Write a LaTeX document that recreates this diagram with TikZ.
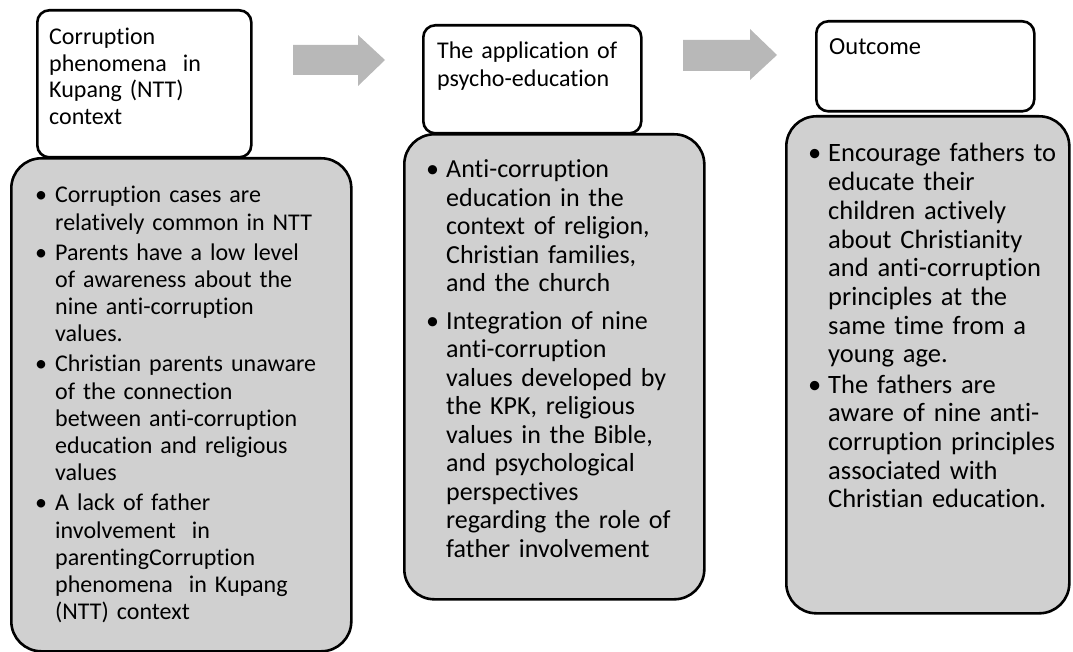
\documentclass[tikz,border=0pt]{standalone}
\usepackage{fontspec}
\setmainfont[Ligatures=NoCommon]{Carlito}
\usetikzlibrary{positioning}
\definecolor{boxgray}{RGB}{208,208,208}
\definecolor{arrowgray}{RGB}{184,184,184}
\newlength{\bulind}\setlength{\bulind}{20pt}
\newlength{\bulgap}\setlength{\bulgap}{2pt}
\newcommand{\bul}[1]{\hangindent=\bulind\hangafter=1\noindent\makebox[\bulind][l]{\textbullet}#1}
\newcommand{\nbul}[1]{\par\vspace{\bulgap}\bul{#1}}
\begin{document}
\begin{tikzpicture}[x=1pt,y=-1pt,
	headbox/.style={draw=black,line width=2.6pt,rounded corners=12pt,fill=white,anchor=north west,inner sep=0pt},
	listbox/.style={draw=black,line width=2.6pt,rounded corners=30pt,fill=boxgray,anchor=north west,inner sep=0pt},
	headtext/.style={anchor=base west,inner sep=0pt,text width=210pt},
	listtext/.style={anchor=base west,inner sep=0pt,text width=330pt}]
	\useasboundingbox (0,0) rectangle (1073,652);
	% column 1
	\node[headbox,minimum width=214pt,minimum height=147pt] (head1) at (36,9) {};
	\node[listbox,minimum width=340pt,minimum height=493pt] (list1) at (10,157) {};
	\node[headtext,font=\fontsize{24}{26.5}\selectfont] (title1) at (49,45) {Corruption\newline phenomena\ \ in\newline Kupang (NTT)\newline context};
	\node[listtext,font={\fontsize{24}{27.3}\selectfont\setlength{\bulgap}{2.5pt}}] (items1) at (35,203) {%
		\bul{Corruption cases are\newline relatively common in NTT}
		\nbul{Parents have a low level\newline of awareness about the\newline nine anti-corruption\newline values.}
		\nbul{Christian parents unaware\newline of the connection\newline between anti-corruption\newline education and religious\newline values}
		\nbul{A lack of father\newline involvement\ \ in\newline parentingCorruption\newline phenomena\ \ in Kupang\newline (NTT) context}\par};
	% column 2
	\node[headbox,minimum width=218pt,minimum height=108pt] (head2) at (422,24) {};
	\node[listbox,minimum width=300pt,minimum height=465pt] (list2) at (403,133) {};
	\node[headtext,font=\fontsize{24}{28}\selectfont] (title2) at (437,59) {The application of\newline psycho-education};
	\node[listtext,font={\fontsize{26}{28.5}\selectfont\setlength{\bulgap}{9pt}}] (items2) at (426,178) {%
		\bul{Anti-corruption\newline education in the\newline context of religion,\newline Christian families,\newline and the church}
		\nbul{Integration of nine\newline anti-corruption\newline values developed by\newline the KPK, religious\newline values in the Bible,\newline and psychological\newline perspectives\newline regarding the role of\newline father involvement}\par};
	% column 3
	\node[headbox,minimum width=218pt,minimum height=90pt] (head3) at (815,20) {};
	\node[listbox,minimum width=283pt,minimum height=497pt] (list3) at (785,115) {};
	\node[headtext,font=\fontsize{24.5}{27}\selectfont] (title3) at (829,55) {Outcome};
	\node[listtext,font={\fontsize{26.5}{28.7}\selectfont\setlength{\bulgap}{1.5pt}}] (items3) at (808,162) {%
		\bul{Encourage fathers to\newline educate their\newline children actively\newline about Christianity\newline and anti-corruption\newline principles at the\newline same time from a\newline young age.}
		\nbul{The fathers are\newline aware of nine anti-\newline corruption principles\newline associated with\newline Christian education.}\par};
	% block arrows
	\fill[arrowgray] (293,45) -- (358,45) -- (358,35) -- (385,60) -- (358,86) -- (358,75) -- (293,75) -- cycle;
	\fill[arrowgray] (683,40) -- (750,40) -- (750,29) -- (777,55) -- (750,80) -- (750,71) -- (683,71) -- cycle;
\end{tikzpicture}
\end{document}
